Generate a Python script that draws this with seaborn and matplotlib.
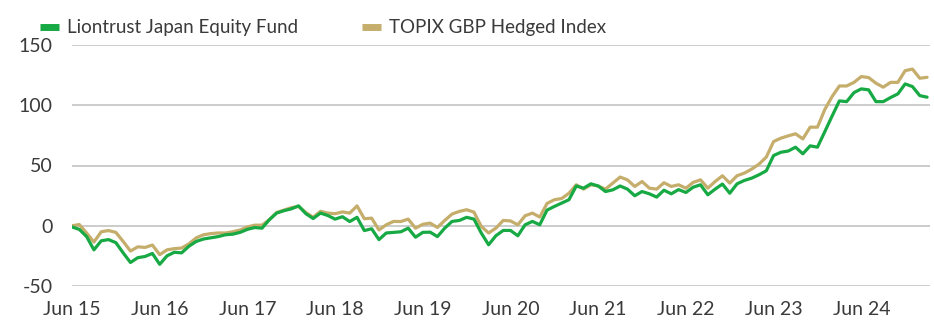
import numpy as np
import pandas as pd
import matplotlib
matplotlib.use("Agg")
import matplotlib.pyplot as plt
from matplotlib.lines import Line2D
import seaborn as sns

# Cumulative performance (%), monthly from Jun 2015
fund = [
    -1, -3, -9, -20, -12.5, -11.5, -14, -22.5, -30.5, -26.5, -25.5, -23,
    -32, -25, -22, -22.5, -17, -13, -11, -10, -9, -7.5, -7, -5.5,
    -3, -1.5, -2, 5, 10.5, 12.5, 14, 16.5, 10, 6, 10.5, 8.5,
    5.5, 7.5, 3.5, 7, -4, -2.5, -11.5, -6, -5.5, -5, -2, -9.5,
    -5.5, -5.3, -9, -2, 3.6, 4.4, 7, 5.5, -6, -15.8, -8.3, -3.9,
    -3.9, -8.3, 0.8, 3.6, 0.8, 13, 16, 18.8, 21.6, 33, 31.2, 34.8,
    33, 28.4, 29.8, 33, 30.4, 24.9, 28.4, 26.5, 23.8, 29.5, 26.5, 30,
    27.6, 32, 34, 25.7, 30.4, 34.6, 27, 34.8, 37.6, 39.5, 42.3, 45.6,
    58.3, 61, 62, 65.2, 59.7, 66.3, 65.2, 78, 91, 103.6, 103, 110.5,
    113.6, 112.8, 103, 103, 106.4, 109.4, 117.7, 115.5, 108, 106.7,
]
index = [
    0, 1, -6, -13.5, -5, -4, -5.5, -13, -21, -17.5, -18, -16,
    -24, -20, -19, -18.5, -15, -10, -7.5, -6.5, -6, -6, -5, -3.5,
    -1, 0.5, 0.5, 5, 11, 13, 15, 16, 11, 7, 12, 10.5,
    10, 11.5, 10.5, 16.5, 5.8, 6.3, -3.5, 0.8, 3.6, 3.5, 5.5, -2,
    1.2, 2.2, -1.4, 4.4, 9.7, 11.9, 13.3, 11.3, -0.5, -6, -2, 4.4,
    4, 0.8, 8.3, 10.5, 7.2, 18.5, 21.6, 22.6, 27, 34, 30.4, 34,
    33, 30.4, 35.4, 40.4, 38.1, 32.6, 36.7, 31.2, 30.4, 35.7, 32.6, 34,
    31.2, 36, 38.1, 31.2, 36.7, 41.5, 35.4, 41.5, 43.7, 47, 51.1, 57,
    69.9, 72.7, 74.6, 76.3, 72.1, 81.8, 81.8, 96.4, 107.2, 116, 116, 119,
    123.8, 123, 118.3, 115, 119, 119, 128.7, 130, 122.4, 123.2,
]
series_names = ["Liontrust Japan Equity Fund", "TOPIX GBP Hedged Index"]
tick_labels = ["Jun 15", "Jun 16", "Jun 17", "Jun 18", "Jun 19",
               "Jun 20", "Jun 21", "Jun 22", "Jun 23", "Jun 24"]
y_ticks = [-50, 0, 50, 100, 150]

months = np.arange(len(fund))
df = pd.DataFrame({
    "month": np.concatenate([months, months]),
    "value": fund + index,
    "series": [series_names[0]] * len(fund) + [series_names[1]] * len(index),
})

sns.set_style("white")
plt.rcParams["font.family"] = ["Lato", "DejaVu Sans"]

GREEN = "#17a943"
GOLD = "#c5ad6b"
TEXT = "#3a3a3a"

fig = plt.figure(figsize=(9.34, 3.21), dpi=100)
ax = fig.add_axes([72 / 934, 35 / 321, 858 / 934, 241 / 321])

sns.lineplot(data=df, x="month", y="value", hue="series",
             hue_order=series_names[::-1], palette=[GOLD, GREEN],
             linewidth=2.3, ax=ax, legend=False)
# fund line above the index line
ax.lines[0].set_zorder(3)
ax.lines[1].set_zorder(4)

ax.set_xlim(0, len(fund) - 0.6)
ax.set_ylim(-50, 150)
ax.set_yticks(y_ticks)
ax.set_yticklabels([str(v) for v in y_ticks])
ax.set_xticks(np.arange(0, len(tick_labels) * 12, 12))
ax.set_xticklabels(tick_labels)
ax.set_xlabel("")
ax.set_ylabel("")
ax.grid(axis="y", color="#c8c8c8", linewidth=1.3)
ax.set_axisbelow(True)
for s in ax.spines.values():
    s.set_visible(False)
ax.tick_params(axis="both", length=0, labelsize=14, colors=TEXT)
ax.tick_params(axis="y", pad=14)
ax.tick_params(axis="x", pad=11)

handles = [Line2D([], [], color=GREEN, linewidth=5, solid_capstyle="butt"),
           Line2D([], [], color=GOLD, linewidth=5, solid_capstyle="butt")]
leg = fig.legend(handles, series_names, loc="center left",
                 bbox_to_anchor=(40 / 934, 1 - 28 / 321), ncol=2,
                 frameon=False, borderpad=0, borderaxespad=0,
                 handlelength=1.0, handletextpad=0.45,
                 columnspacing=3.4, prop={"size": 13.5})
for t in leg.get_texts():
    t.set_color(TEXT)

fig.savefig("out.png", dpi=100)
